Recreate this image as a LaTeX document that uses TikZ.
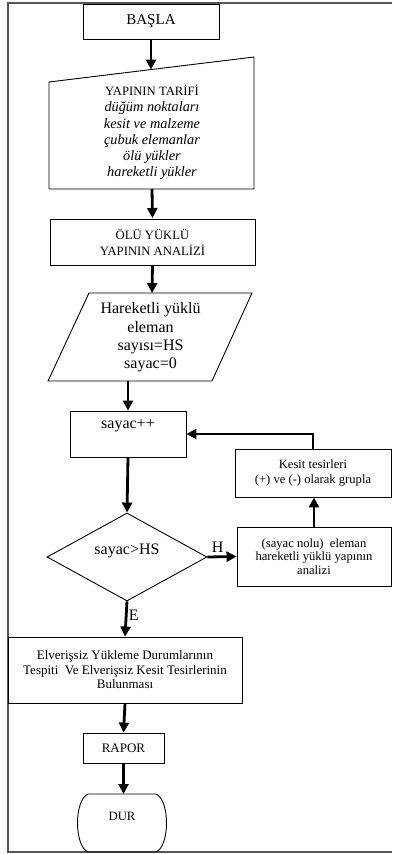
\documentclass[tikz,border=0pt]{standalone}
\usepackage{fontspec}
\setmainfont{Liberation Serif}
\usepackage{tikz}
\usetikzlibrary{arrows.meta,shapes.geometric}
\definecolor{framegray}{RGB}{85, 85, 85}

\begin{document}
\begin{tikzpicture}[x=1pt, y=-1pt,
  box/.style={draw, line width=0.9pt, inner sep=0pt, align=center},
  arr/.style={line width=2.8pt, -{Triangle[width=10pt,length=10pt]}},
  lbl/.style={font=\fontsize{16}{18}\selectfont}]
\useasboundingbox (0,0) rectangle (392,854);

% Outer frame
\draw[framegray, line width=1.6pt] (392,3) -- (8,3) -- (8,852) -- (392,852);

% Start
\node[box, minimum width=136pt, minimum height=35pt, font=\fontsize{15}{17}\selectfont] (basla) at (151,21.5) {BAŞLA};

% Structure definition (manual input)
\draw[line width=0.9pt] (49,82) -- (254,57) -- (254,189) -- (49,189) -- cycle;
\coordinate (tartop) at (151,69.6);
\coordinate (tarbot) at (152,189);
\node[align=center, font=\fontsize{12.7}{16.3}\selectfont] (tarif) at (152,132.5)
  {YAPININ TARİFİ\\ \fontsize{14.3}{16.3}\selectfont\itshape düğüm noktaları\\
   \fontsize{14.3}{16.3}\selectfont\itshape kesit ve malzeme\\
   \fontsize{14.3}{16.3}\selectfont\itshape çubuk elemanlar\\
   \fontsize{14.3}{16.3}\selectfont\itshape ölü yükler\\
   \fontsize{14.3}{16.3}\selectfont\itshape hareketli yükler};

% Dead load analysis
\node[box, minimum width=205pt, minimum height=46pt, font=\fontsize{12.7}{16}\selectfont] (olu) at (152.5,242)
  {ÖLÜ YÜKLÜ\\YAPININ ANALİZİ};

% Moving load count (input)
\draw[line width=0.9pt] (89,293) -- (252,293) -- (212,381) -- (48,381) -- cycle;
\coordinate (hstop) at (152,293);
\coordinate (hsbot) at (128,381);
\node[align=center, font=\fontsize{16}{18.4}\selectfont] (hs) at (150.5,337.5)
  {Hareketli yüklü\\eleman\\sayısı=HS\\sayac=0};

% Counter
\node[box, minimum width=116pt, minimum height=46pt] (sayac) at (128,434) {};
\node[lbl] (sayactxt) at (128,426) {sayac++};

% Decision
\node[draw, line width=0.9pt, diamond, inner sep=0pt, minimum width=160pt, minimum height=88pt] (cond) at (127,557) {};
\node[lbl] (condtxt) at (127,551) {sayac>HS};

% Loop body
\node[box, minimum width=154pt, minimum height=59pt, font=\fontsize{12.6}{13.6}\selectfont] (nolu) at (314,556.5)
  {(sayac nolu)\ \ eleman\\hareketli yüklü yapının\\analizi};
\node[box, minimum width=156pt, minimum height=48pt, font=\fontsize{12.6}{15}\selectfont] (kesit) at (313,473)
  {Kesit tesirleri\\(+) ve (-) olarak grupla};

% Result
\node[box, minimum width=234pt, minimum height=66pt, font=\fontsize{13}{14.5}\selectfont] (elv) at (125,670)
  {Elverişsiz Yükleme Durumlarının\\Tespiti\ \ Ve Elverişsiz Kesit Tesirlerinin\\Bulunması};
\node[box, minimum width=81pt, minimum height=30pt, font=\fontsize{13}{15}\selectfont] (rapor) at (123.5,748) {RAPOR};

% Stop (terminal)
\draw[line width=0.9pt] (88,794) -- (156,794) .. controls (170,800) and (170,846) .. (156,852)
  -- (88,852) .. controls (74,846) and (74,800) .. (88,794) -- cycle;
\coordinate (durtop) at (123.5,794);
\node[font=\fontsize{12.7}{15}\selectfont] (dur) at (122,816) {DUR};

% Connectors
\draw[arr] (basla.south) -- (tartop);
\draw[arr] (tarbot) -- (olu.south |- 0,218);
\draw[arr] (olu.south) -- (hstop);
\draw[arr] (hsbot) -- (sayac.north);
\draw[arr] (sayac.south) -- (cond.north);
\draw[arr] (cond.east) -- node[lbl, above, pos=0.35] (hlbl) {H} (nolu.west);
\draw[arr] (nolu.north) -- (nolu.north |- kesit.south);
\draw[arr] (kesit.north) |- (sayac.east);
\draw[arr] (cond.south) -- node[lbl, right, pos=0.4, xshift=-2pt] (elbl) {E} (elv.north);
\draw[arr] (elv.south) -- (rapor.north);
\draw[arr] (rapor.south) -- (durtop);
\end{tikzpicture}
\end{document}
